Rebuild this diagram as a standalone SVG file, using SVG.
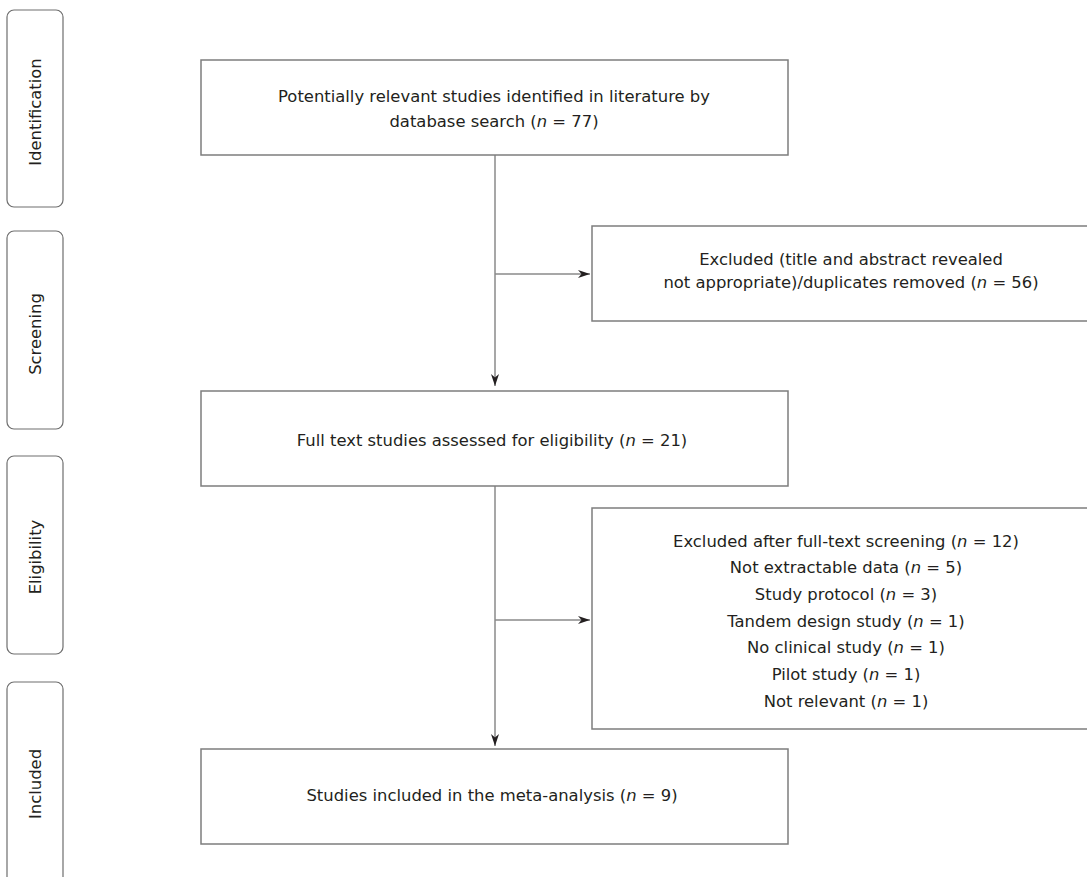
<svg xmlns="http://www.w3.org/2000/svg" width="1087" height="877" viewBox="0 0 1087 877">
<style>
  .bg{fill:#ffffff}
  .box{fill:#ffffff;stroke:#7d7d7d;stroke-width:1.5}
  .side{fill:#ffffff;stroke:#6e6e6e;stroke-width:1.2}
  .t{font-family:"DejaVu Sans",Verdana,sans-serif;font-size:16.4px;fill:#231f20;text-anchor:middle}
  .i{font-style:italic}
  .conn{stroke:#8a8a8a;stroke-width:1.5;fill:none}
</style>
<defs>
  <marker id="arr" markerUnits="userSpaceOnUse" markerWidth="13" markerHeight="9" refX="12" refY="4" orient="auto">
    <path d="M0,0 L12,4 L0,8 L3.5,4 Z" fill="#231f20"/>
  </marker>
</defs>
<rect class="bg" x="0" y="0" width="1087" height="877"/>

<g id="stage-identification">
  <rect class="side" x="7" y="10" width="56" height="197" rx="7" ry="7"/>
  <text class="t" transform="translate(41,112) rotate(-90)">Identification</text>
</g>
<g id="stage-screening">
  <rect class="side" x="7" y="231" width="56" height="198" rx="7" ry="7"/>
  <text class="t" transform="translate(41,334) rotate(-90)">Screening</text>
</g>
<g id="stage-eligibility">
  <rect class="side" x="7" y="456" width="56" height="198" rx="7" ry="7"/>
  <text class="t" transform="translate(41,557) rotate(-90)">Eligibility</text>
</g>
<g id="stage-included">
  <rect class="side" x="7" y="682" width="56" height="210" rx="7" ry="7"/>
  <text class="t" transform="translate(41,784) rotate(-90)">Included</text>
</g>

<g id="connectors">
  <line class="conn" x1="495" y1="155" x2="495" y2="386" marker-end="url(#arr)"/>
  <line class="conn" x1="495" y1="274" x2="590" y2="274" marker-end="url(#arr)"/>
  <line class="conn" x1="495" y1="486" x2="495" y2="746" marker-end="url(#arr)"/>
  <line class="conn" x1="495" y1="620" x2="590" y2="620" marker-end="url(#arr)"/>
</g>

<g id="node-identified">
  <rect class="box" x="201" y="60" width="587" height="95"/>
  <text class="t" x="494" y="102">Potentially relevant studies identified in literature by</text>
  <text class="t" x="494" y="127">database search (<tspan class="i">n</tspan> = 77)</text>
</g>

<g id="node-excluded-screening">
  <rect class="box" x="592" y="226" width="520" height="95"/>
  <text class="t" x="851" y="265">Excluded (title and abstract revealed</text>
  <text class="t" x="851" y="288">not appropriate)/duplicates removed (<tspan class="i">n</tspan> = 56)</text>
</g>

<g id="node-fulltext">
  <rect class="box" x="201" y="391" width="587" height="95"/>
  <text class="t" x="492" y="446">Full text studies assessed for eligibility (<tspan class="i">n</tspan> = 21)</text>
</g>

<g id="node-excluded-fulltext">
  <rect class="box" x="592" y="508" width="520" height="221"/>
  <text class="t" x="846" y="546.5">Excluded after full-text screening (<tspan class="i">n</tspan> = 12)</text>
  <text class="t" x="846" y="573.2">Not extractable data (<tspan class="i">n</tspan> = 5)</text>
  <text class="t" x="846" y="599.8">Study protocol (<tspan class="i">n</tspan> = 3)</text>
  <text class="t" x="846" y="626.5">Tandem design study (<tspan class="i">n</tspan> = 1)</text>
  <text class="t" x="846" y="653.2">No clinical study (<tspan class="i">n</tspan> = 1)</text>
  <text class="t" x="846" y="679.8">Pilot study (<tspan class="i">n</tspan> = 1)</text>
  <text class="t" x="846" y="706.5">Not relevant (<tspan class="i">n</tspan> = 1)</text>
</g>

<g id="node-included">
  <rect class="box" x="201" y="749" width="587" height="95"/>
  <text class="t" x="492" y="801">Studies included in the meta-analysis (<tspan class="i">n</tspan> = 9)</text>
</g>
</svg>
